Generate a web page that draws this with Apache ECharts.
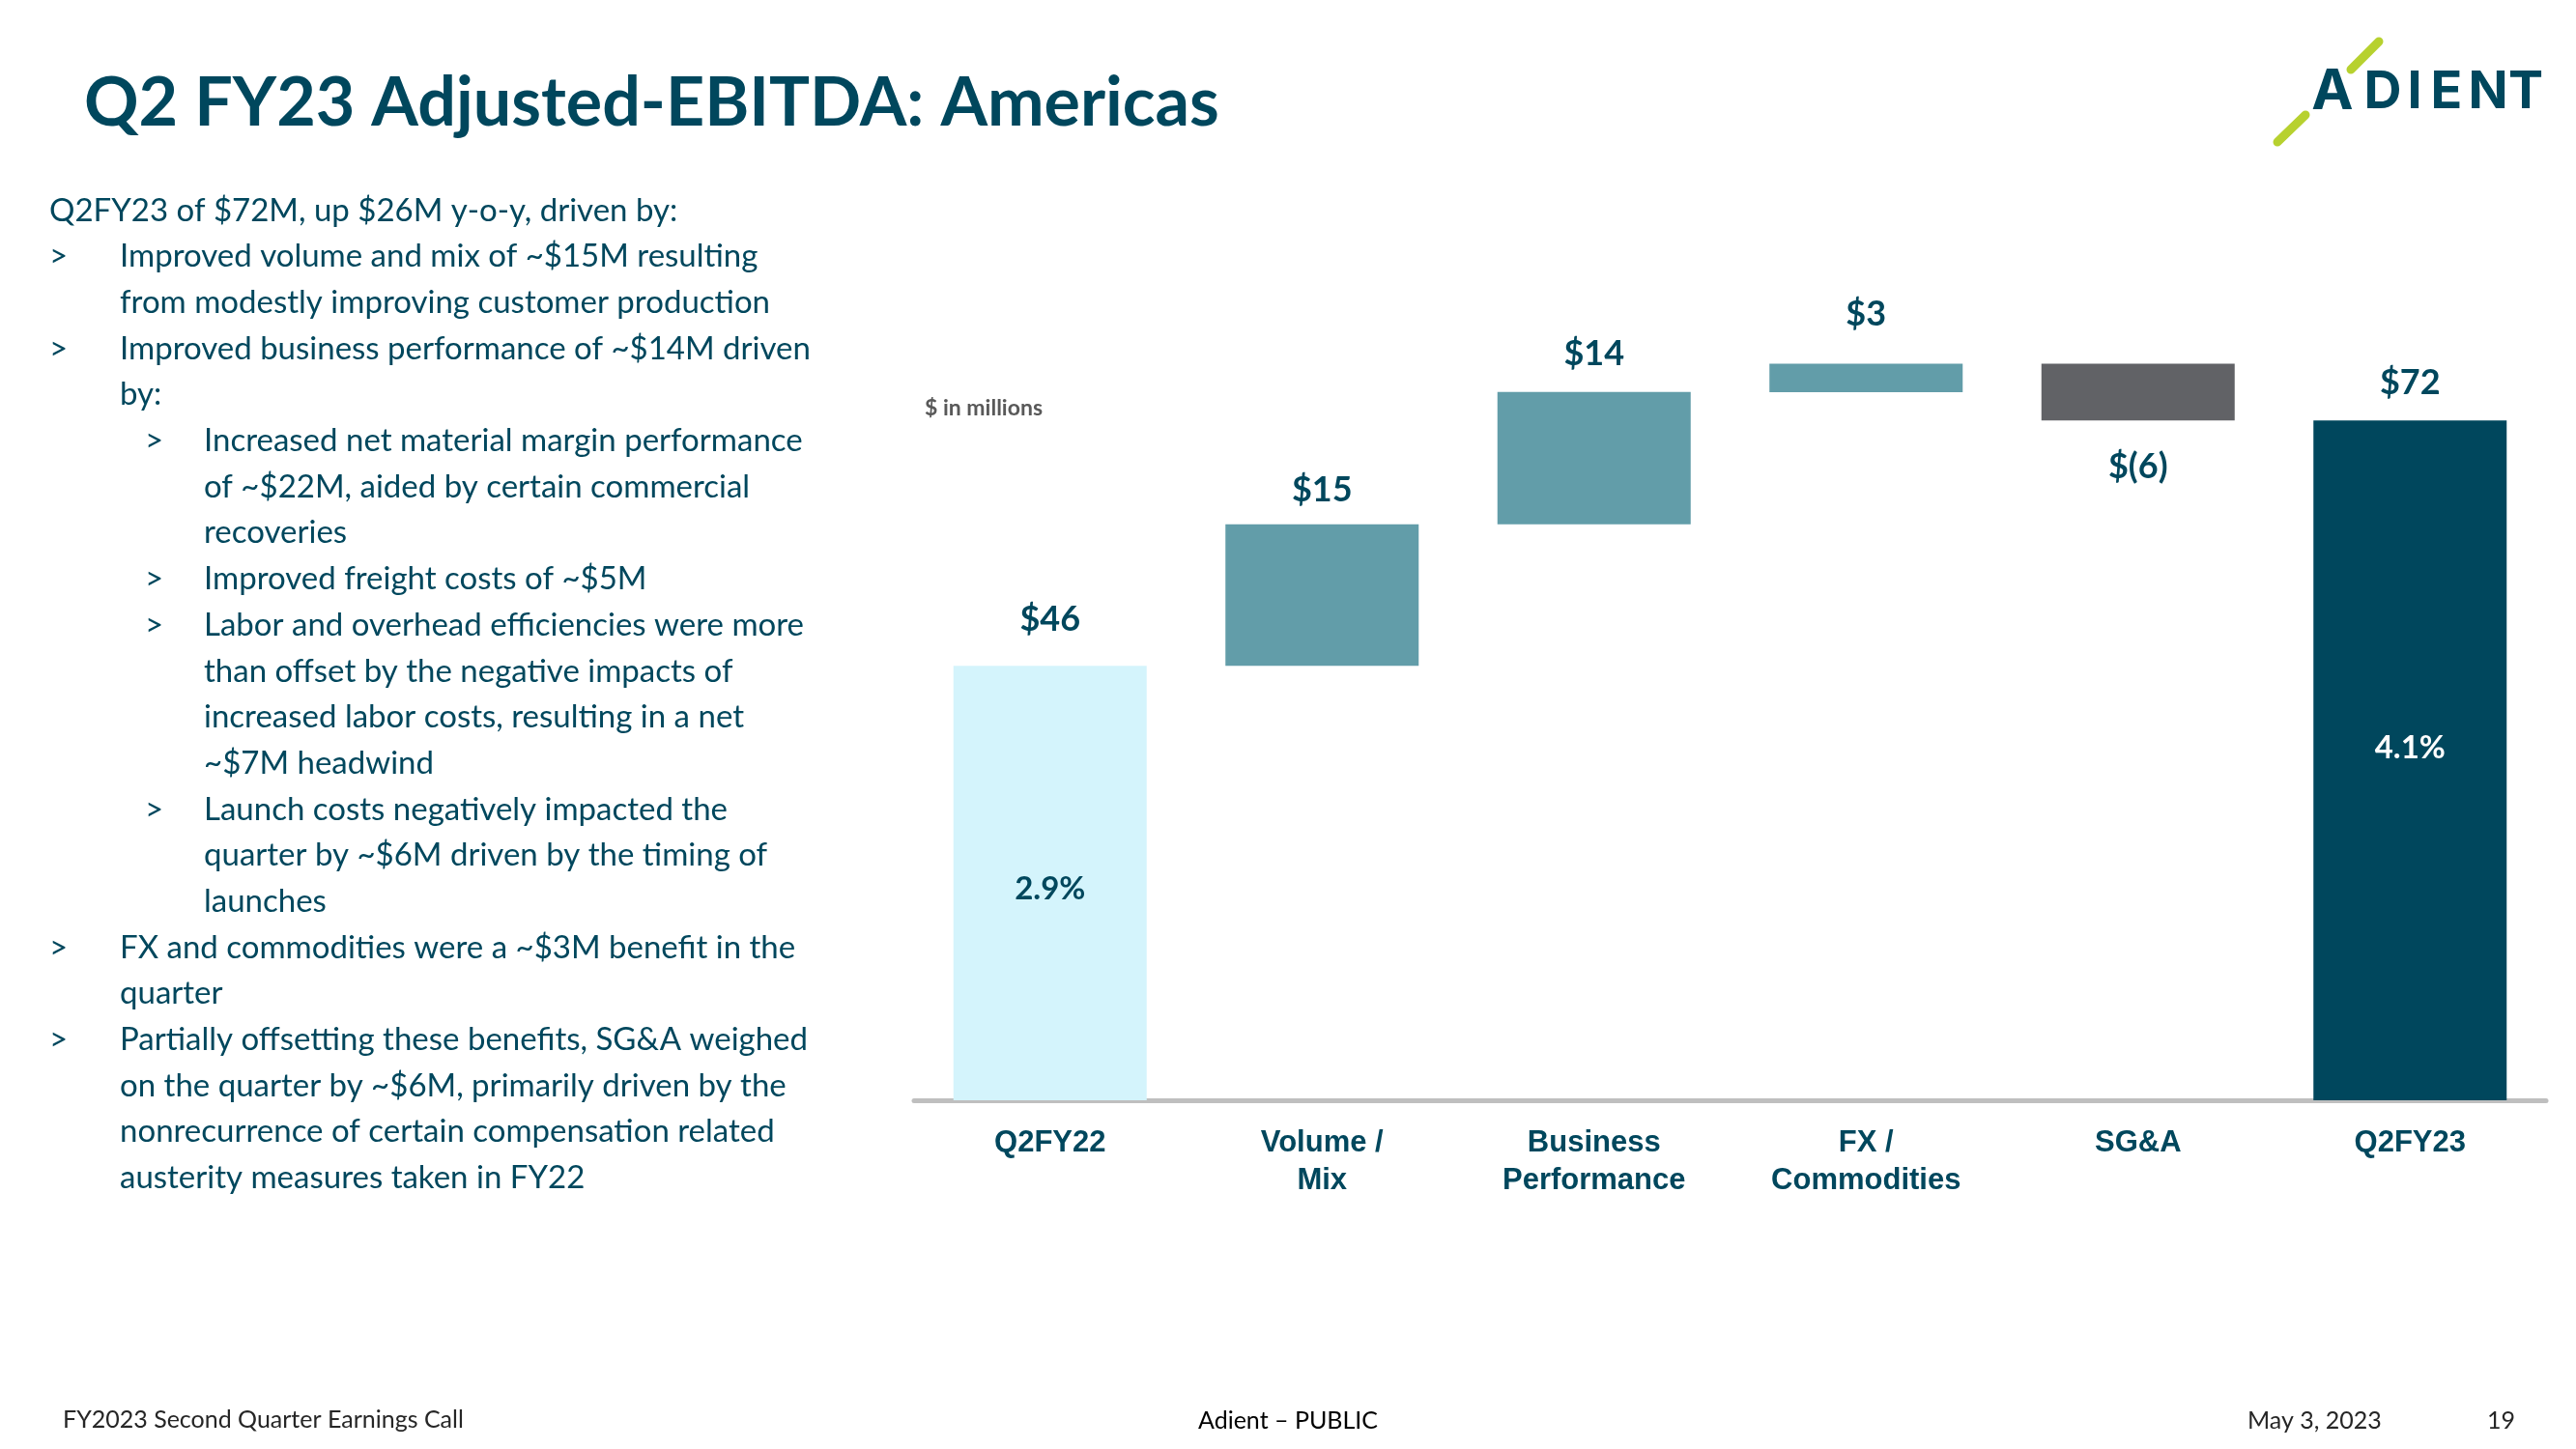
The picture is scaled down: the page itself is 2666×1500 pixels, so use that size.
<!DOCTYPE html>
<html><head><meta charset="utf-8">
<script src="https://cdn.jsdelivr.net/npm/echarts@6/dist/echarts.min.js"></script>
<style>html,body{margin:0;padding:0;background:#fff}#c{width:2666px;height:1500px}</style>
</head><body><div id="c"></div>
<script>
// ---------- data ----------
const categories = ['Q2FY22', 'Volume /\nMix', 'Business\nPerformance', 'FX /\nCommodities', 'SG&A', 'Q2FY23'];
const values = [46, 15, 14, 3, -6, 72];
const isTotal = [true, false, false, false, false, true];
const valueLabels = ['$46', '$15', '$14', '$3', '$(6)', '$72'];
const marginLabels = ['2.9%', '', '', '', '', '4.1%'];
const unitNote = '$ in millions';
const titleText = 'Q2 FY23 Adjusted-EBITDA: Americas';
const bodyLines = [
  [0, false, 'Q2FY23 of $72M, up $26M y-o-y, driven by:'],
  [1, true, 'Improved volume and mix of ~$15M resulting'],
  [1, false, 'from modestly improving customer production'],
  [1, true, 'Improved business performance of ~$14M driven'],
  [1, false, 'by:'],
  [2, true, 'Increased net material margin performance'],
  [2, false, 'of ~$22M, aided by certain commercial'],
  [2, false, 'recoveries'],
  [2, true, 'Improved freight costs of ~$5M'],
  [2, true, 'Labor and overhead efficiencies were more'],
  [2, false, 'than offset by the negative impacts of'],
  [2, false, 'increased labor costs, resulting in a net'],
  [2, false, '~$7M headwind'],
  [2, true, 'Launch costs negatively impacted the'],
  [2, false, 'quarter by ~$6M driven by the timing of'],
  [2, false, 'launches'],
  [1, true, 'FX and commodities were a ~$3M benefit in the'],
  [1, false, 'quarter'],
  [1, true, 'Partially offsetting these benefits, SG&A weighed'],
  [1, false, 'on the quarter by ~$6M, primarily driven by the'],
  [1, false, 'nonrecurrence of certain compensation related'],
  [1, false, 'austerity measures taken in FY22']
];
const footerLeft = 'FY2023 Second Quarter Earnings Call';
const footerMid = 'Adient \u2013 PUBLIC';
const footerDate = 'May 3, 2023';
const footerPage = '19';
const logoLetters = ['A', 'D', 'I', 'E', 'N', 'T'];

// ---------- styling ----------
const DARK = '#00475D';
const colTotalFirst = '#D4F4FC', colTotalLast = '#00475D', colUp = '#629DA9', colDown = '#616266';
const labelGap = [30, 17, 21, 33, 30, 21];
const marginOffset = [6, 0, 0, 0, 0, -13];

// waterfall geometry from values
let running = 0;
const baseData = [], barData = [];
values.forEach((v, i) => {
  if (isTotal[i]) { baseData.push(0); barData.push(v); running = v; }
  else {
    const start = running; running += v;
    baseData.push(Math.min(start, running));
    barData.push(Math.abs(v));
  }
});
const visData = barData.map((val, i) => {
  const color = isTotal[i] ? (i === 0 ? colTotalFirst : colTotalLast) : (values[i] >= 0 ? colUp : colDown);
  return {
    value: val,
    itemStyle: { color },
    label: {
      show: true,
      position: values[i] >= 0 ? 'top' : 'bottom',
      distance: labelGap[i],
      formatter: valueLabels[i]
    }
  };
});
const marginData = values.map((v, i) => marginLabels[i] ? {
  value: v,
  label: { show: true, position: 'inside', offset: [0, marginOffset[i]], formatter: marginLabels[i],
           color: i === 0 ? DARK : '#FFFFFF' }
} : '-');

const LATO = 'Lato, "Open Sans", sans-serif';
const graphics = [];
function txt(x, y, text, font, fill, align) {
  graphics.push({ type: 'text', silent: true, style: {
    x, y, text, font, fill, align: align || 'left', verticalAlign: 'middle',
    textAlign: align || 'left', textVerticalAlign: 'middle' } });
}
// title
txt(87, 107, titleText, 'bold 70px ' + LATO, DARK);
// body
bodyLines.forEach((ln, i) => {
  const y = 218 + i * 47.69;
  const lvl = ln[0];
  const tx = lvl === 0 ? 51 : (lvl === 1 ? 124 : 211);
  const bx = lvl === 1 ? 51 : 150;
  if (ln[1]) txt(bx, y, '>', '33px ' + LATO, DARK);
  txt(tx, y, ln[2], '33px ' + LATO, DARK);
});
// unit note
txt(957, 423, unitNote, 'bold 23px ' + LATO, '#595959');
// footer
txt(65, 1470, footerLeft, '25px ' + LATO, '#262626');
txt(1333, 1471, footerMid, '25px ' + LATO, '#000000', 'center');
txt(2326, 1471, footerDate, '25px ' + LATO, '#262626');
txt(2574, 1471, footerPage, '25px ' + LATO, '#262626');
// logo
graphics.push({ type: 'line', silent: true, shape: { x1: 2433, y1: 72, x2: 2462, y2: 43 },
  style: { stroke: '#B7D12F', lineWidth: 9, lineCap: 'round' } });
graphics.push({ type: 'line', silent: true, shape: { x1: 2357, y1: 147, x2: 2386, y2: 119 },
  style: { stroke: '#B7D12F', lineWidth: 9, lineCap: 'round' } });
const logoX = [2414, 2466, 2499, 2532, 2575, 2614];
logoLetters.forEach((ch, i) => txt(logoX[i], 96, ch, (i === 0 ? 'bold 58px ' : 'bold 54px ') + 'Inter, ' + LATO, DARK, 'center'));

const chart = echarts.init(document.getElementById('c'), null, { renderer: 'canvas' });
chart.setOption({
  animation: false,
  backgroundColor: '#FFFFFF',
  grid: { left: 946, right: 31, top: 357, bottom: 361 },
  xAxis: {
    type: 'category', data: categories,
    axisLine: { lineStyle: { color: '#BFBFBF', width: 5 } },
    axisTick: { show: false },
    axisLabel: { margin: 25, color: DARK, fontFamily: '"Liberation Sans", Arial, sans-serif',
                 fontWeight: 'bold', fontSize: 31, lineHeight: 39, interval: 0 }
  },
  yAxis: { type: 'value', min: 0, max: 80, show: false, splitLine: { show: false } },
  series: [
    { type: 'bar', stack: 'wf', data: baseData, barWidth: 200, silent: true,
      itemStyle: { color: 'transparent' } },
    { type: 'bar', stack: 'wf', data: visData, barWidth: 200,
      label: { color: DARK, fontFamily: LATO, fontWeight: 'bold', fontSize: 36 } },
    { type: 'bar', data: marginData, barWidth: 200, barGap: '-100%', silent: true,
      itemStyle: { color: 'transparent' },
      label: { fontFamily: LATO, fontWeight: 'bold', fontSize: 33 } }
  ],
  graphic: { elements: graphics }
});
</script></body></html>
